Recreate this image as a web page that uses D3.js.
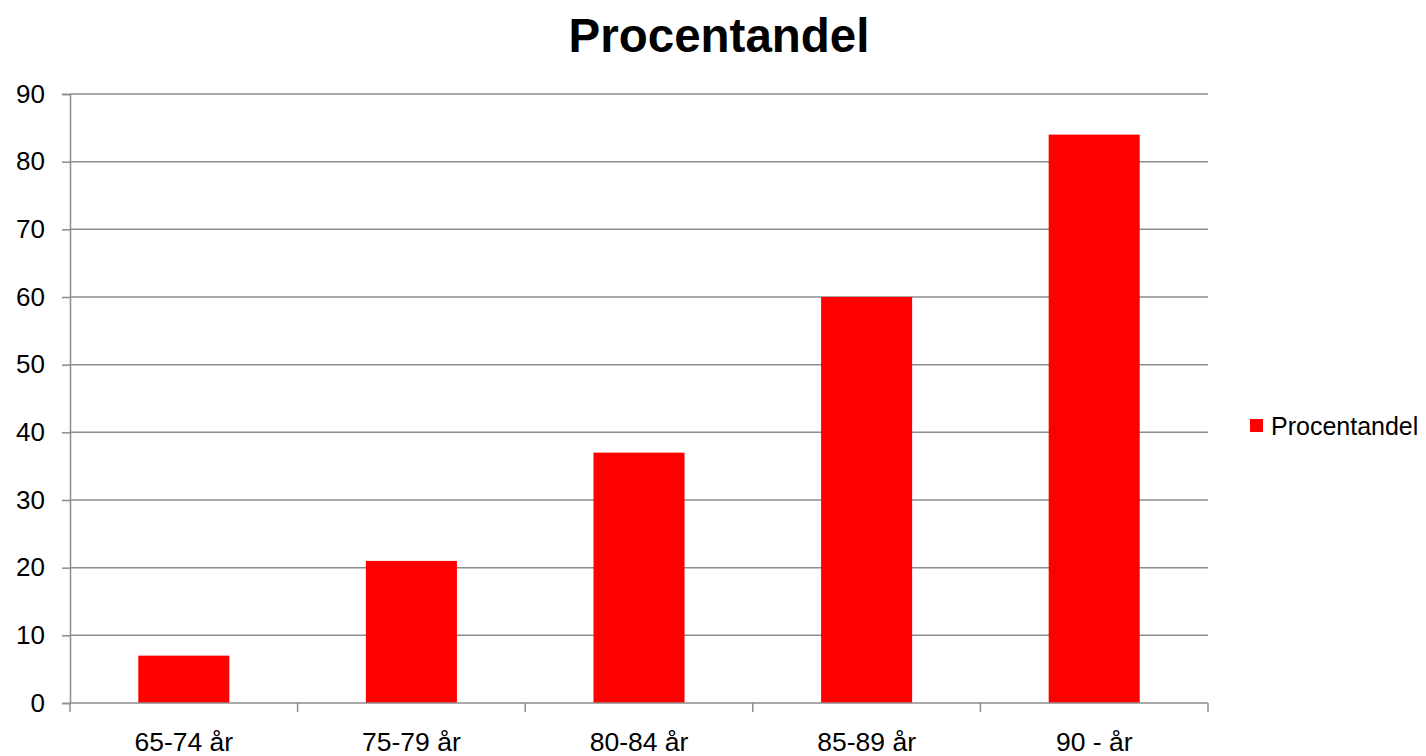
<!DOCTYPE html>
<html>
<head>
<meta charset="utf-8">
<script src="https://cdn.jsdelivr.net/npm/d3@7"></script>
<style>
  body { margin: 0; background: white; }
  text { font-family: "Liberation Sans", Arial, sans-serif; }
</style>
</head>
<body>
<svg id="chart" width="1426" height="756"></svg>
<script>
let categories = ["65-74 år", "75-79 år", "80-84 år", "85-89 år", "90 - år"]
let values = [7, 21, 37, 60, 84]
let yTicks = [0, 10, 20, 30, 40, 50, 60, 70, 80, 90]
let seriesName = "Procentandel"

let svg = d3.select("#chart")
let plotLeft = 70, plotRight = 1208, plotTop = 94, plotBottom = 703
let gridColor = "#8c8c8c"

let x = d3.scaleBand().domain(categories).range([plotLeft, plotRight]).padding(0)
let y = d3.scaleLinear().domain([0, 90]).range([plotBottom, plotTop])

// title
svg.append("text")
    .attr("x", 719)
    .attr("y", 52)
    .attr("text-anchor", "middle")
    .attr("font-size", "47.5px")
    .attr("font-weight", "bold")
    .text("Procentandel")

// horizontal gridlines
svg.append("g").selectAll("line")
    .data(yTicks.filter(d => d > 0))
    .join("line")
    .attr("x1", plotLeft).attr("x2", plotRight)
    .attr("y1", d => y(d)).attr("y2", d => y(d))
    .attr("stroke", gridColor)
    .attr("stroke-width", 1.5)

// y axis
let yAxis = svg.append("g")
    .attr("transform", `translate(${plotLeft},0)`)
    .call(d3.axisLeft(y).tickValues(yTicks).tickSize(8).tickPadding(17))
yAxis.select(".domain").attr("stroke", gridColor).attr("stroke-width", 1.5)
yAxis.selectAll("line").attr("stroke", gridColor).attr("stroke-width", 1.5)
yAxis.selectAll("text").attr("font-size", "26px").attr("fill", "black")
    .attr("font-family", "Liberation Sans, Arial, sans-serif")

// bars
let barW = x.bandwidth() * 0.4
svg.append("g").selectAll("rect")
    .data(values)
    .join("rect")
    .attr("x", (d, i) => x(categories[i]) + (x.bandwidth() - barW) / 2)
    .attr("width", barW)
    .attr("y", d => y(d))
    .attr("height", d => plotBottom - y(d))
    .attr("fill", "#ff0000")

// x axis
let xAxis = svg.append("g")
    .attr("transform", `translate(0,${plotBottom})`)
    .call(d3.axisBottom(x).tickSize(0).tickPadding(29))
xAxis.select(".domain").remove()
xAxis.selectAll("text").attr("font-size", "26.5px").attr("fill", "black")
    .attr("font-family", "Liberation Sans, Arial, sans-serif")
svg.append("line")
    .attr("x1", plotLeft).attr("x2", plotRight)
    .attr("y1", plotBottom).attr("y2", plotBottom)
    .attr("stroke", gridColor).attr("stroke-width", 1.5)
let bounds = categories.map(c => x(c)).concat([plotRight])
svg.append("g").selectAll("line")
    .data(bounds)
    .join("line")
    .attr("x1", d => d).attr("x2", d => d)
    .attr("y1", plotBottom).attr("y2", plotBottom + 9)
    .attr("stroke", gridColor).attr("stroke-width", 1.5)

// legend
let legend = svg.append("g").attr("transform", "translate(1250,419)")
legend.append("rect").attr("width", 13).attr("height", 13).attr("fill", "#ff0000")
legend.append("text")
    .attr("x", 21).attr("y", 16)
    .attr("font-size", "25px")
    .text(seriesName)
</script>
</body>
</html>
